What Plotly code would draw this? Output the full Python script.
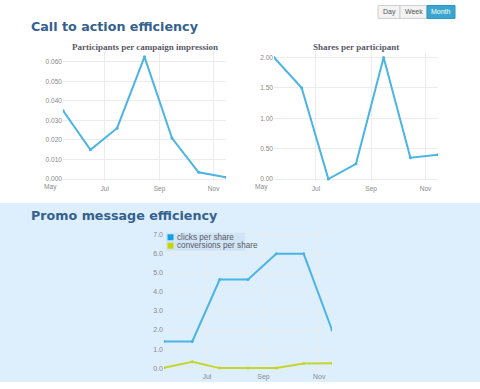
import datetime as dt
import plotly.graph_objects as go

# ---------------- data ----------------
months = ["2013-05-15", "2013-06-15", "2013-07-15", "2013-08-15",
          "2013-09-15", "2013-10-15", "2013-11-15"]
participants_per_impression = [0.035, 0.015, 0.026, 0.0625, 0.021, 0.0035, 0.001]
shares_per_participant = [2.0, 1.5, 0.0, 0.25, 2.0, 0.35, 0.40]
clicks_per_share = [1.4, 1.4, 4.65, 4.65, 6.0, 6.0, 2.0]
conversions_per_share = [0.02, 0.33, 0.0, 0.0, 0.0, 0.24, 0.26]

series_names = ["clicks per share", "conversions per share"]
x_tick_vals = ["2013-07-01", "2013-09-01", "2013-11-01"]
x_tick_text = ["Jul", "Sep", "Nov"]
first_tick_val = "2013-05-01"
first_tick_text = "May"
y1_ticks = [0.0, 0.01, 0.02, 0.03, 0.04, 0.05, 0.06]
y2_ticks = [0.0, 0.5, 1.0, 1.5, 2.0]
y3_ticks = [0, 1, 2, 3, 4, 5, 6, 7]
buttons = ["Day", "Week", "Month"]

# ---------------- styling ----------------
W, H = 480, 389
BLUE = "#4ab4e4"
BLUE_SW = "#12a0e4"
YEL = "#c6d52c"
YEL_SW = "#c8d400"
TITLE_C = "#34618e"
TICK_FONT = dict(family="Liberation Sans, Arial, sans-serif", size=6.6, color="#8a8a8a")
GRID = "#ececec"
X_RANGE = [months[0], months[-1]]


def px(x):
    return x / W


def py(y):
    return 1 - y / H


def date_frac(d):
    """Position of a date as a fraction of the x range (for the label left of the range)."""
    a = dt.date.fromisoformat(X_RANGE[0])
    b = dt.date.fromisoformat(X_RANGE[1])
    return (dt.date.fromisoformat(d) - a).days / (b - a).days


fig = go.Figure()

fig.add_trace(go.Scatter(x=months, y=participants_per_impression, mode="lines+markers",
                         line=dict(color=BLUE, width=2), marker=dict(size=3, color=BLUE),
                         xaxis="x", yaxis="y", showlegend=False))
fig.add_trace(go.Scatter(x=months, y=shares_per_participant, mode="lines+markers",
                         line=dict(color=BLUE, width=2), marker=dict(size=3, color=BLUE),
                         xaxis="x2", yaxis="y2", showlegend=False))
fig.add_trace(go.Scatter(x=months, y=clicks_per_share, name=series_names[0], mode="lines+markers",
                         line=dict(color=BLUE, width=2), marker=dict(size=3, color=BLUE),
                         xaxis="x3", yaxis="y3", showlegend=False))
fig.add_trace(go.Scatter(x=months, y=conversions_per_share, name=series_names[1], mode="lines+markers",
                         line=dict(color=YEL, width=2), marker=dict(size=3, color=YEL),
                         xaxis="x3", yaxis="y3", showlegend=False))

xcommon = dict(type="date", range=X_RANGE, tickvals=x_tick_vals,
               ticktext=x_tick_text, showgrid=True, gridcolor=GRID, gridwidth=1,
               zeroline=False, showline=False, ticks="", tickfont=TICK_FONT, fixedrange=True,
               ticklabelstandoff=2)
ycommon = dict(showgrid=True, gridcolor=GRID, gridwidth=1, zeroline=False, showline=False,
               ticks="", tickfont=TICK_FONT, fixedrange=True)

fig.update_layout(
    width=W, height=H,
    margin=dict(l=0, r=0, t=0, b=0),
    paper_bgcolor="white",
    plot_bgcolor="rgba(0,0,0,0)",
    showlegend=False,
    xaxis=dict(xcommon, domain=[px(63), px(226)], anchor="y"),
    yaxis=dict(ycommon, domain=[py(181), py(50)], range=[-0.001, 0.0656],
               tickvals=y1_ticks, tickformat=".3f", anchor="x"),
    xaxis2=dict(xcommon, domain=[px(274), px(438)], anchor="y2"),
    yaxis2=dict(ycommon, domain=[py(181), py(50)], range=[-0.033, 2.11],
                tickvals=y2_ticks, tickformat=".2f", anchor="x2"),
    xaxis3=dict(xcommon, domain=[px(164), px(332)], anchor="y3",
                gridcolor="rgba(235,235,235,0.8)", ticklabelstandoff=1,
                tickfont=dict(TICK_FONT, size=7)),
    yaxis3=dict(ycommon, domain=[py(371), py(232)], range=[-0.104, 7.157],
                tickvals=y3_ticks, tickformat=".1f", anchor="x3",
                gridcolor="rgba(235,235,235,0.8)",
                tickfont=dict(TICK_FONT, size=7)),
)

shapes = []
# blue section background
shapes.append(dict(type="rect", xref="paper", yref="paper", x0=0, x1=1, y0=py(383), y1=py(203),
                   fillcolor="#ddeefd", line=dict(width=0), layer="below"))
# button bar
btn_edges = [378, 400, 427, 455]
for i, b in enumerate(buttons):
    active = (b == "Month")
    shapes.append(dict(type="rect", xref="paper", yref="paper",
                       x0=px(btn_edges[i]), x1=px(btn_edges[i + 1]), y0=py(17.5), y1=py(4.5),
                       fillcolor="#3aa6d0" if active else "#f3f3f3",
                       line=dict(color="#2f93bd" if active else "#cfcfcf", width=1)))
# legend box and swatches
shapes.append(dict(type="rect", xref="paper", yref="paper", x0=px(166), x1=px(245),
                   y0=py(251), y1=py(233), fillcolor="rgba(196,220,244,0.55)",
                   line=dict(width=0)))
shapes.append(dict(type="rect", xref="paper", yref="paper", x0=px(167.5), x1=px(173.5),
                   y0=py(240.5), y1=py(234.5), fillcolor=BLUE_SW, line=dict(width=0)))
shapes.append(dict(type="rect", xref="paper", yref="paper", x0=px(167.5), x1=px(173.5),
                   y0=py(249), y1=py(243), fillcolor=YEL_SW, line=dict(width=0)))
fig.update_layout(shapes=shapes)

ann = []
ann.append(dict(text="<b>Call to action efficiency</b>", xref="paper", yref="paper",
                x=px(29), y=py(26), xanchor="left", yanchor="middle", showarrow=False,
                font=dict(family="DejaVu Sans", size=12.7, color=TITLE_C)))
ann.append(dict(text="<b>Promo message efficiency</b>", xref="paper", yref="paper",
                x=px(29), y=py(216), xanchor="left", yanchor="middle", showarrow=False,
                font=dict(family="DejaVu Sans", size=12.7, color=TITLE_C)))
sub_font = dict(family="Liberation Serif, Times New Roman, serif", size=9, color="#5a5a66")
ann.append(dict(text="<b>Participants per campaign impression</b>", xref="x domain", yref="paper",
                x=0.5, y=py(46), xanchor="center", yanchor="middle", showarrow=False, font=sub_font))
ann.append(dict(text="<b>Shares per participant</b>", xref="x2 domain", yref="paper",
                x=0.5, y=py(46), xanchor="center", yanchor="middle", showarrow=False, font=sub_font))
# first month label, which sits left of the plotted range
for xr in ["x domain", "x2 domain"]:
    ann.append(dict(text=first_tick_text, xref=xr, yref="paper", x=date_frac(first_tick_val),
                    y=py(187), xanchor="center", yanchor="middle", showarrow=False,
                    font=TICK_FONT))
# button labels
for i, b in enumerate(buttons):
    ann.append(dict(text=b, xref="paper", yref="paper",
                    x=px((btn_edges[i] + btn_edges[i + 1]) / 2), y=py(11),
                    xanchor="center", yanchor="middle", showarrow=False,
                    font=dict(family="Liberation Sans, Arial, sans-serif", size=7,
                              color="white" if b == "Month" else "#555555")))
# legend labels
leg_font = dict(family="Liberation Sans, Arial, sans-serif", size=8.2, color="#5a5a5a")
ann.append(dict(text=series_names[0], xref="paper", yref="paper", x=px(175), y=py(237.5),
                xanchor="left", yanchor="middle", showarrow=False, font=leg_font))
ann.append(dict(text=series_names[1], xref="paper", yref="paper", x=px(175), y=py(246),
                xanchor="left", yanchor="middle", showarrow=False, font=leg_font))
fig.update_layout(annotations=ann)

fig.write_html("out.html", config={"displayModeBar": False},
               post_script="document.body.style.margin='0';"
                           "document.body.style.overflow='hidden';")
